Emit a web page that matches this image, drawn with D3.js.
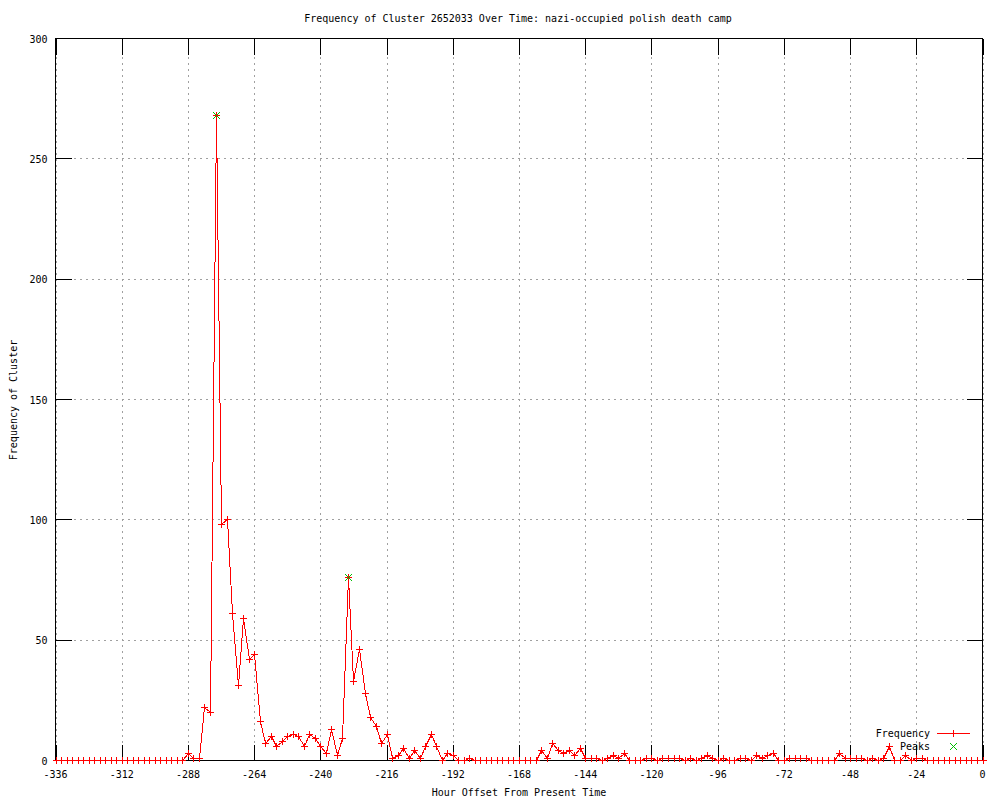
<!DOCTYPE html>
<html>
  <head>
    <meta charset="utf-8">
    <script src="https://d3js.org/d3.v7.min.js"></script>
    <style>
      body { margin: 0; background: #fff; }
      text { font-family: "DejaVu Sans Mono", monospace; font-size: 10px; fill: #000; }
    </style>
  </head>
<body>
  <script type="text/javascript">
    // data: one value every 2 hours, -336 .. 0
    var freq = [
      0,0,0,0,0,0,0,0,0,0,0,0,0,0,0,0,0,0,0,0,0,0,0,0,
      3,1,1,22,20,268,98,100,61,31,
      59,42,44,16,7,10,6,8,10,11,
      10,6,11,9,6,3,13,2,9,76,
      33,46,28,18,14,7,11,1,2,5,
      1,4,1,6,11,6,0,3,2,0,
      0,1,
      0,0,0,0,0,0,0,0,0,0,0,0,
      4,1,7,4,3,4,2,5,1,1,
      1,0,1,2,1,3,0,0,0,1,
      1,0,1,1,1,1,0,1,0,1,
      2,1,0,1,0,0,1,1,0,2,
      1,2,3,0,0,1,1,1,1,0,
      0,0,0,0,3,1,1,1,1,0,
      1,0,1,6,0,0,2,0,1,1,
      0,0,0,0,0,0,0,0,0,0,0
    ];
    var hours = d3.range(-336, 1, 2);
    var peakHours = [-278, -230];
    var peakValues = [268, 76];
    var xTicks = [-336,-312,-288,-264,-240,-216,-192,-168,-144,-120,-96,-72,-48,-24,0];
    var yTicks = [0,50,100,150,200,250,300];

    function draw() {
      var width = 1000, height = 800;
      var pLeft = 55.5, pRight = 982.5, pTop = 38.5, pBottom = 760.5;
      var tic = 16;
      var red = "#ff0000", green = "#00c000";

      var svg = d3.select("body")
        .append("svg")
          .attr("width", width)
          .attr("height", height)
          .attr("shape-rendering", "crispEdges");

      var x = d3.scaleLinear().domain([-336, 0]).range([pLeft, pRight]);
      var y = d3.scaleLinear().domain([0, 300]).range([pBottom, pTop]);
      // snap to pixel centres
      function px(h) { return Math.round(x(h)) + 0.5; }
      function py(v) { return Math.floor(y(v)) + 0.5; }

      // grid
      var grid = svg.append("g")
        .attr("stroke", "#a0a0a0")
        .attr("stroke-dasharray", "2,4");
      grid.selectAll("line.gx")
        .data(xTicks)
        .enter().append("line")
          .attr("x1", px)
          .attr("x2", px)
          .attr("y1", pBottom)
          .attr("y2", pTop);
      grid.selectAll("line.gy")
        .data(yTicks)
        .enter().append("line")
          .attr("x1", pLeft)
          .attr("x2", pRight)
          .attr("y1", py)
          .attr("y2", py);

      // border + inward ticks (mirrored)
      var axes = svg.append("g").attr("stroke", "#000").attr("stroke-width", 1);
      axes.append("rect")
        .attr("x", pLeft).attr("y", pTop)
        .attr("width", pRight - pLeft).attr("height", pBottom - pTop)
        .attr("fill", "none");
      xTicks.forEach(function(d) {
        var xx = px(d);
        axes.append("line").attr("x1", xx).attr("x2", xx).attr("y1", pBottom).attr("y2", pBottom - tic);
        axes.append("line").attr("x1", xx).attr("x2", xx).attr("y1", pTop).attr("y2", pTop + tic);
      });
      yTicks.forEach(function(d) {
        var yy = py(d);
        axes.append("line").attr("x1", pLeft).attr("x2", pLeft + tic).attr("y1", yy).attr("y2", yy);
        axes.append("line").attr("x1", pRight).attr("x2", pRight - tic).attr("y1", yy).attr("y2", yy);
      });

      // tick labels
      svg.selectAll("text.xt")
        .data(xTicks)
        .enter().append("text")
          .attr("x", function(d) { return x(d); })
          .attr("y", pBottom + 17)
          .attr("text-anchor", "middle")
          .text(function(d) { return d < 0 ? "-" + (-d) : d; });
      svg.selectAll("text.yt")
        .data(yTicks)
        .enter().append("text")
          .attr("x", pLeft - 8)
          .attr("y", function(d) { return y(d) + 4; })
          .attr("text-anchor", "end")
          .text(function(d) { return d; });

      // titles
      svg.append("text")
        .attr("x", 518).attr("y", 22)
        .attr("text-anchor", "middle")
        .text("Frequency of Cluster 2652033 Over Time: nazi-occupied polish death camp");
      svg.append("text")
        .attr("x", 519).attr("y", 796)
        .attr("text-anchor", "middle")
        .text("Hour Offset From Present Time");
      svg.append("text")
        .attr("transform", "translate(17,400) rotate(-90)")
        .attr("text-anchor", "middle")
        .text("Frequency of Cluster");

      // frequency line + "+" points (no antialiasing, like gnuplot png)
      var pts = hours.map(function(h, i) { return [h, freq[i]]; });
      var line = d3.line()
        .x(function(d) { return px(d[0]); })
        .y(function(d) { return py(d[1]); });
      svg.append("path")
        .datum(pts)
        .attr("d", line)
        .attr("fill", "none")
        .attr("stroke", red)
        .attr("stroke-width", 1);

      function plus(cx, cy, r) {
        return "M" + (cx - r) + "," + cy + "H" + (cx + r) + "M" + cx + "," + (cy - r) + "V" + (cy + r);
      }
      function cross(cx, cy, r) {
        return "M" + (cx - r) + "," + (cy - r) + "L" + (cx + r) + "," + (cy + r) +
               "M" + (cx - r) + "," + (cy + r) + "L" + (cx + r) + "," + (cy - r);
      }

      svg.append("g")
        .selectAll("path")
        .data(pts)
        .enter().append("path")
          .attr("d", function(d) { return plus(px(d[0]), py(d[1]), 3.5); })
          .attr("fill", "none")
          .attr("stroke", red)
          .attr("stroke-width", 1);

      // peaks
      svg.append("g")
        .selectAll("path")
        .data(peakHours)
        .enter().append("path")
          .attr("d", function(d, i) { return cross(px(d), py(peakValues[i]), 3.5); })
          .attr("fill", "none")
          .attr("stroke", green)
          .attr("stroke-width", 1);

      // legend
      var legend = svg.append("g");
      legend.append("text").attr("x", 930).attr("y", 737).attr("text-anchor", "end").text("Frequency");
      legend.append("path")
        .attr("d", "M937,733.5H970")
        .attr("fill", "none")
        .attr("stroke", red)
        .attr("stroke-width", 1);
      legend.append("path").attr("d", plus(953.5, 733.5, 3.5))
        .attr("fill", "none").attr("stroke", red).attr("stroke-width", 1);
      legend.append("text").attr("x", 930).attr("y", 750).attr("text-anchor", "end").text("Peaks");
      legend.append("path").attr("d", cross(953.5, 746.5, 3.5))
        .attr("fill", "none").attr("stroke", green).attr("stroke-width", 1);
    }

    draw();
  </script>
</body>
</html>
